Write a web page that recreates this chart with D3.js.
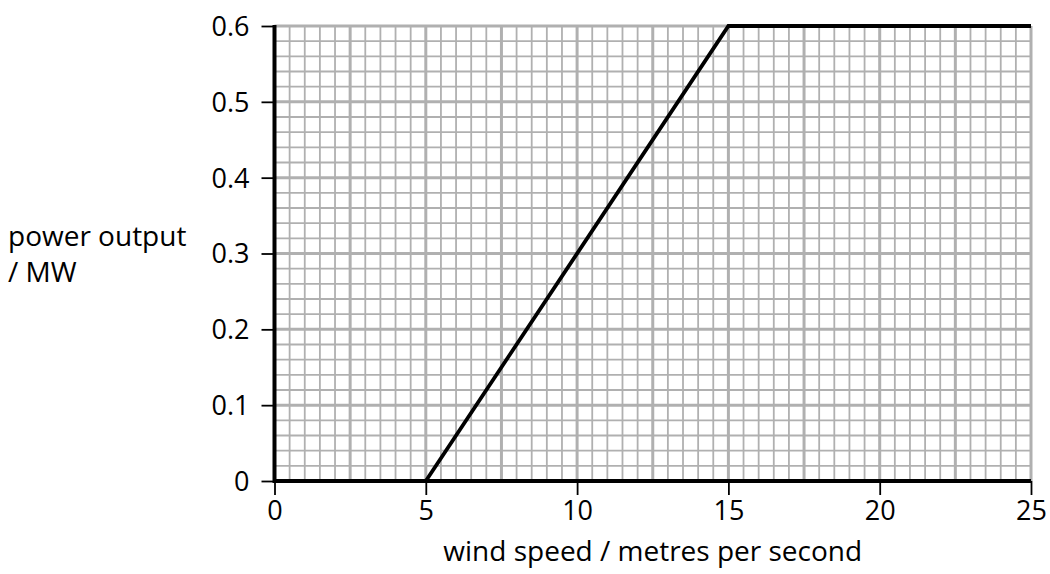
<!DOCTYPE html>
<html>
<head>
<meta charset="utf-8">
<script src="https://cdn.jsdelivr.net/npm/d3@7"></script>
<style>
  body { margin: 0; background: white; }
  text { font-family: "Open Sans", "Noto Sans", sans-serif; fill: black; }
</style>
</head>
<body>
<div id="chart"></div>
<script>
// data
const windSpeed = [5, 15, 25];
const powerOutput = [0, 0.6, 0.6];
const xTicks = [0, 5, 10, 15, 20, 25];
const yTicks = [0, 0.1, 0.2, 0.3, 0.4, 0.5, 0.6];

const WIDTH = 1050, HEIGHT = 574;
const MARGIN = { left: 274.5, top: 26, right: 19, bottom: 93 };
const FONT_SIZE = 27;
const TITLE_SIZE = 28;

const svg = d3.select("#chart").append("svg")
    .attr("width", WIDTH)
    .attr("height", HEIGHT);

const w = WIDTH - MARGIN.left - MARGIN.right;
const h = HEIGHT - MARGIN.top - MARGIN.bottom;

const x = d3.scaleLinear().domain([0, 25]).range([0, w]);
const y = d3.scaleLinear().domain([0, 0.6]).range([h, 0]);

const g = svg.append("g").attr("transform", `translate(${MARGIN.left}, ${MARGIN.top})`);

// grid: minor every 0.5 / 0.02, major every 2.5 / 0.1
const xMinor = d3.range(0, 50.5).map(i => i * 0.5);
const yMinor = d3.range(0, 30.5).map(i => i * 0.02);

g.selectAll(".vgrid").data(xMinor).join("line")
    .attr("x1", d => x(d)).attr("x2", d => x(d))
    .attr("y1", 0).attr("y2", h)
    .attr("stroke", "#b0b0b0")
    .attr("stroke-width", (d, i) => i % 5 === 0 ? 3 : 1.8);

g.selectAll(".hgrid").data(yMinor).join("line")
    .attr("y1", d => y(d)).attr("y2", d => y(d))
    .attr("x1", 0).attr("x2", w)
    .attr("stroke", "#b0b0b0")
    .attr("stroke-width", (d, i) => i % 5 === 0 ? 3 : 1.8);

// axes
const xAxis = d3.axisBottom(x).tickValues(xTicks).tickSize(14).tickPadding(6).tickFormat(d3.format("d"));
const yAxis = d3.axisLeft(y).tickValues(yTicks).tickSize(13).tickPadding(12).tickFormat(d => d === 0 ? "0" : d3.format(".1f")(d));

const gx = g.append("g").attr("transform", `translate(0, ${h})`).call(xAxis);
const gy = g.append("g").call(yAxis);

[gx, gy].forEach(a => {
    a.select(".domain").remove();
    a.selectAll(".tick line").attr("stroke", "black").attr("stroke-width", 1.8);
    a.selectAll(".tick text").style("font-size", FONT_SIZE + "px")
        .style("font-family", "'Open Sans', sans-serif");
});
gy.selectAll(".tick text").attr("dy", "0.35em");

g.append("line").attr("x1", 0).attr("x2", w).attr("y1", h).attr("y2", h)
    .attr("stroke", "black").attr("stroke-width", 4);
g.append("line").attr("x1", 0).attr("x2", 0).attr("y1", -1).attr("y2", h + 2)
    .attr("stroke", "black").attr("stroke-width", 4);

// power curve
const line = d3.line().x(d => x(d[0])).y(d => y(d[1]));
g.append("path")
    .datum(windSpeed.map((v, i) => [v, powerOutput[i]]))
    .attr("d", line)
    .attr("fill", "none")
    .attr("stroke", "black")
    .attr("stroke-width", 3.8)
    .attr("stroke-linejoin", "miter");

// labels
svg.append("text")
    .attr("x", MARGIN.left + w / 2)
    .attr("y", 561)
    .style("text-anchor", "middle")
    .style("font-size", TITLE_SIZE + "px")
    .text("wind speed / metres per second");

const yl = svg.append("text")
    .attr("x", 8)
    .attr("y", 246)
    .style("font-size", TITLE_SIZE + "px");
yl.append("tspan").attr("x", 8).text("power output");
yl.append("tspan").attr("x", 8).attr("dy", 36).text("/ MW");
</script>
</body>
</html>
